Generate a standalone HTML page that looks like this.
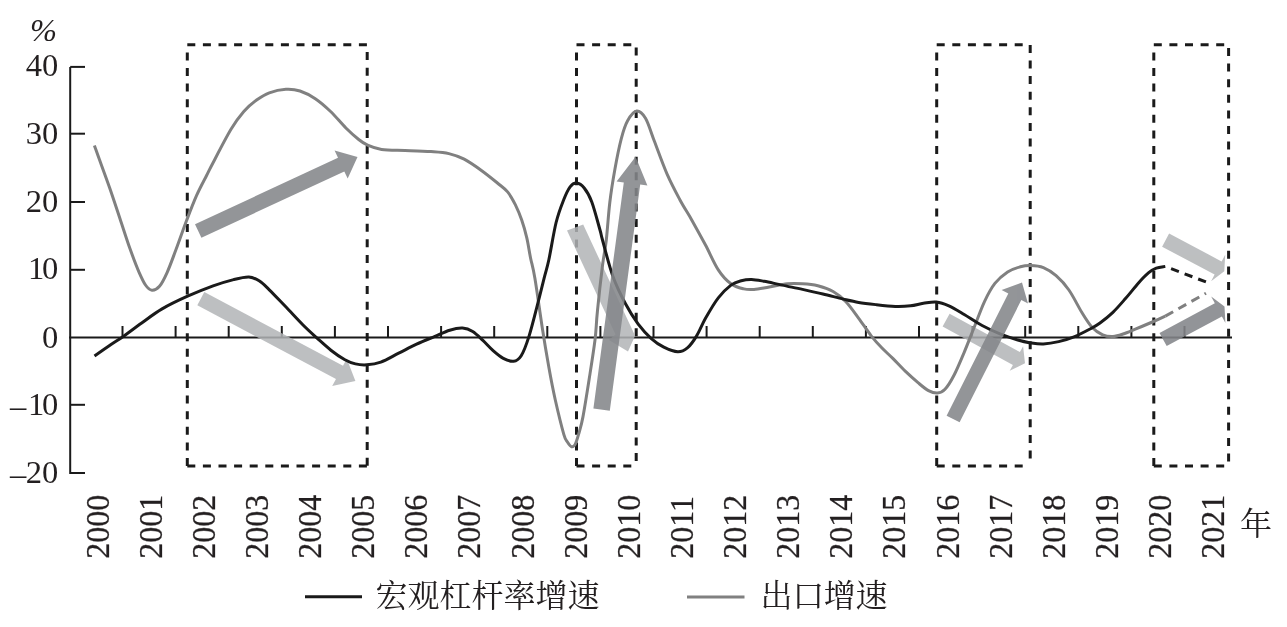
<!DOCTYPE html>
<html><head><meta charset="utf-8"><title>chart</title>
<style>html,body{margin:0;padding:0;background:#fff}svg{display:block}text{font-family:"Liberation Serif","Noto Serif CJK SC",serif;fill:#231f20}.xl text{stroke:#231f20;stroke-width:0.25}</style></head>
<body>
<svg width="1287" height="627" viewBox="0 0 1287 627">
<rect width="1287" height="627" fill="#fff"/>
<g stroke="#1a1a1a" stroke-width="2" fill="none">
<path d="M70.2 66.9V474"/>
<path d="M69.2 337.5H1232"/>
<path d="M70.2 66.9H85"/>
<path d="M70.2 133.7H85"/>
<path d="M70.2 202.0H85"/>
<path d="M70.2 269.8H85"/>
<path d="M70.2 404.8H85"/>
<path d="M70.2 473.0H85"/>
<path d="M122.5 337.5V326.0"/>
<path d="M175.6 337.5V326.0"/>
<path d="M228.7 337.5V326.0"/>
<path d="M281.8 337.5V326.0"/>
<path d="M334.9 337.5V326.0"/>
<path d="M388.0 337.5V326.0"/>
<path d="M441.1 337.5V326.0"/>
<path d="M494.2 337.5V326.0"/>
<path d="M547.3 337.5V326.0"/>
<path d="M600.4 337.5V326.0"/>
<path d="M653.5 337.5V326.0"/>
<path d="M706.6 337.5V326.0"/>
<path d="M759.7 337.5V326.0"/>
<path d="M812.8 337.5V326.0"/>
<path d="M865.9 337.5V326.0"/>
<path d="M919.0 337.5V326.0"/>
<path d="M972.1 337.5V326.0"/>
<path d="M1025.2 337.5V326.0"/>
<path d="M1078.3 337.5V326.0"/>
<path d="M1131.4 337.5V326.0"/>
<path d="M1184.5 337.5V326.0"/>
</g>
<g stroke="#1a1a1a" stroke-width="3" fill="none" stroke-dasharray="8 7.6">
<path d="M187.3 466.0V44.8H367.2V466.0"/>
<path d="M187.3 466.0H367.2"/>
<path d="M576.5 466.0V44.8H636.2V466.0"/>
<path d="M576.5 466.0H636.2"/>
<path d="M936.7 466.0V44.8H1030.2V466.0"/>
<path d="M936.7 466.0H1030.2"/>
<path d="M1153.8 466.0V44.8H1228.6V466.0"/>
<path d="M1153.8 466.0H1228.6"/>
</g>
<g opacity="0.85" fill="#b2b4b6"><polygon points="197.3,305.3 336.0,379.1 332.2,386.1 355.4,380.9 346.8,358.8 343.0,365.8 204.3,292.1"/><polygon points="567,230.6 583.2,224.6 635.1,335.8 628,351.4 608.8,340 615.5,334.6"/><polygon points="942.6,326.6 1012.9,364.9 1009.7,370.8 1025.0,363.2 1023.1,346.2 1019.9,352.1 949.6,313.8"/><polygon points="1162.1,246.7 1214.6,274.6 1211.1,281.3 1224.3,271.3 1225.2,254.8 1221.6,261.4 1169.1,233.5"/></g>
<path d="M94.4 145.5C95.3 147.9 97.0 152.9 99.6 160.0C102.1 167.1 106.3 178.2 109.7 188.0C113.1 197.8 116.6 208.5 120.0 218.7C123.4 228.9 127.0 240.4 130.2 249.3C133.4 258.2 136.5 266.4 139.1 272.3C141.7 278.2 143.4 282.0 145.5 285.0C147.6 288.0 149.6 290.0 151.9 290.2C154.2 290.4 156.9 289.3 159.5 286.3C162.1 283.3 164.4 278.5 167.2 272.3C170.0 266.1 172.9 257.8 176.1 249.3C179.3 240.8 182.9 230.2 186.3 221.3C189.7 212.4 193.1 203.4 196.5 195.7C199.9 188.0 203.9 180.8 206.7 175.3C209.5 169.8 209.1 170.2 213.2 162.5C217.2 154.8 225.9 137.8 231.0 129.3C236.1 120.8 239.5 116.4 243.8 111.5C248.1 106.6 252.4 103.1 256.6 100.0C260.9 96.9 264.4 94.6 269.3 92.8C274.2 91.0 280.8 89.6 285.9 89.3C291.0 89.0 295.1 89.4 300.0 91.0C304.9 92.6 310.2 95.3 315.3 98.7C320.4 102.1 325.5 106.6 330.6 111.5C335.7 116.4 341.2 123.3 345.9 128.0C350.6 132.7 355.1 136.6 358.7 139.5C362.3 142.4 363.8 143.5 367.6 145.2C371.4 146.9 375.4 148.6 381.6 149.5C387.8 150.4 396.8 150.2 405.0 150.5C413.2 150.8 423.7 151.1 431.0 151.6C438.3 152.1 443.4 152.3 448.9 153.6C454.4 154.9 458.7 156.3 464.2 159.2C469.7 162.1 476.6 167.0 482.1 171.0C487.6 175.0 493.1 179.5 497.4 183.0C501.6 186.5 504.6 188.3 507.6 191.9C510.6 195.5 512.9 199.9 515.3 204.6C517.6 209.3 519.8 214.5 521.7 220.0C523.6 225.5 525.3 231.4 526.8 237.8C528.3 244.2 529.2 251.4 530.6 258.2C532.0 264.9 532.9 266.4 534.9 278.3C536.9 290.2 540.2 314.4 542.5 329.3C544.8 344.2 546.8 355.8 548.9 367.6C551.0 379.4 552.8 388.9 555.3 400.0C557.8 411.1 561.8 427.3 563.8 434.4C565.8 441.4 566.3 440.2 567.6 442.3C568.9 444.4 570.2 446.4 571.5 446.7C572.8 447.0 574.0 446.5 575.3 444.1C576.6 441.7 577.8 437.1 579.1 432.5C580.4 427.9 581.3 425.6 583.0 416.6C584.7 407.6 587.3 391.1 589.3 378.3C591.3 365.5 593.6 351.1 595.0 340.0C596.4 328.9 596.1 323.9 597.4 311.5C598.6 299.1 601.0 277.4 602.5 265.5C604.0 253.6 605.1 250.5 606.3 240.0C607.5 229.5 608.4 214.3 609.8 202.5C611.2 190.7 613.0 179.9 614.9 169.3C616.8 158.7 619.2 146.8 621.3 138.7C623.4 130.6 625.0 125.4 627.6 120.8C630.2 116.2 633.6 111.5 636.6 111.1C639.6 110.7 642.5 113.3 645.5 118.3C648.5 123.3 650.8 132.0 654.4 141.3C658.0 150.7 662.9 164.6 667.2 174.4C671.5 184.2 675.9 192.3 680.0 200.0C684.1 207.7 687.8 212.9 692.0 220.4C696.2 227.9 701.1 236.8 705.5 245.0C709.9 253.2 714.0 263.3 718.3 269.8C722.5 276.3 726.8 280.6 731.0 283.8C735.2 287.0 740.0 288.0 743.8 288.9C747.6 289.8 749.8 289.7 754.0 289.4C758.2 289.1 763.8 287.8 769.3 286.9C774.8 286.0 781.7 284.3 787.2 283.8C792.7 283.3 797.4 283.5 802.5 283.8C807.6 284.1 812.7 284.5 817.8 285.8C822.9 287.1 828.4 288.9 833.1 291.5C837.8 294.1 841.6 297.2 845.9 301.7C850.2 306.2 854.5 312.6 858.7 318.3C863.0 324.0 867.5 331.2 871.4 336.1C875.3 341.1 878.4 344.3 882.0 348.0C885.6 351.7 888.9 354.5 892.8 358.4C896.7 362.3 901.2 367.3 905.5 371.4C909.8 375.5 914.5 379.7 918.3 382.9C922.1 386.1 925.3 388.9 928.5 390.6C931.7 392.3 934.6 393.3 937.4 393.1C940.1 392.9 942.2 392.3 945.0 389.3C947.8 386.3 950.8 381.5 954.0 375.3C957.2 369.1 960.8 360.4 964.2 352.3C967.6 344.2 971.0 335.3 974.4 326.8C977.8 318.3 981.2 308.5 984.6 301.3C988.0 294.1 991.1 288.3 994.9 283.4C998.7 278.5 1003.4 274.7 1007.6 271.9C1011.9 269.1 1016.6 267.9 1020.4 266.8C1024.2 265.7 1026.8 265.4 1030.6 265.5C1034.4 265.6 1039.2 265.9 1043.4 267.6C1047.7 269.3 1051.8 272.0 1056.1 275.7C1060.3 279.4 1064.7 283.9 1068.9 290.0C1073.2 296.1 1077.8 305.8 1081.6 312.0C1085.4 318.2 1088.5 323.4 1092.0 327.2C1095.5 331.0 1099.2 333.2 1102.7 334.8C1106.2 336.4 1109.5 336.6 1112.9 336.5C1116.3 336.4 1119.3 335.3 1123.1 334.0C1126.9 332.7 1131.2 330.8 1135.9 328.9C1140.6 327.0 1146.3 324.6 1151.2 322.5C1156.1 320.4 1163.0 317.2 1165.3 316.1" fill="none" stroke="#808080" stroke-width="3" stroke-linejoin="round"/>
<path d="M1165.3 316.1L1206.0 293.2" fill="none" stroke="#808080" stroke-width="3" stroke-dasharray="9 6"/>
<path d="M94.5 356.1C97.2 354.2 106.3 347.8 111.0 344.6C115.7 341.4 117.4 340.6 122.5 337.0C127.6 333.4 135.1 327.7 141.7 323.0C148.3 318.3 154.4 313.4 162.1 308.9C169.8 304.4 179.1 300.0 187.6 296.2C196.1 292.4 205.4 288.7 213.1 285.9C220.8 283.1 227.6 281.1 233.6 279.6C239.6 278.1 244.7 276.8 248.9 277.0C253.2 277.2 255.7 278.7 259.1 280.8C262.5 282.9 264.9 285.6 269.3 289.8C273.7 294.1 279.7 300.5 285.3 306.3C290.9 312.1 297.6 319.4 302.8 324.7C308.1 330.0 312.1 333.6 316.8 337.9C321.5 342.1 326.2 346.5 330.9 350.2C335.6 353.9 340.8 357.5 344.9 359.8C349.0 362.1 351.8 363.1 355.4 363.9C359.0 364.7 362.6 365.1 366.8 364.8C371.0 364.5 375.5 364.0 380.8 362.1C386.1 360.2 392.7 356.2 398.7 353.2C404.7 350.2 410.7 347.0 416.6 344.2C422.6 341.4 428.9 338.9 434.4 336.6C439.9 334.3 445.0 331.6 449.7 330.2C454.4 328.8 458.7 327.9 462.5 328.1C466.3 328.3 469.3 329.4 472.7 331.5C476.1 333.6 479.5 337.2 482.9 340.4C486.3 343.6 489.7 347.6 493.1 350.6C496.5 353.6 499.9 356.5 503.3 358.3C506.7 360.1 510.5 361.7 513.5 361.3C516.5 360.9 518.6 359.8 521.2 355.7C523.8 351.6 526.4 344.5 528.9 336.6C531.4 328.7 534.0 318.3 536.5 308.5C539.0 298.7 542.2 286.0 544.2 277.9C546.2 269.8 546.8 269.2 548.8 260.0C550.8 250.8 553.6 232.6 556.1 222.5C558.6 212.4 561.5 205.4 563.8 199.5C566.1 193.6 568.0 189.6 570.1 186.8C572.2 184.1 574.1 182.8 576.5 183.0C578.9 183.2 581.7 184.8 584.2 188.0C586.8 191.2 589.2 195.0 591.8 202.0C594.4 209.0 598.2 223.7 600.0 230.0C601.8 236.3 600.4 232.4 602.5 240.0C604.6 247.6 608.9 265.1 612.7 275.7C616.5 286.3 621.2 295.7 625.5 303.8C629.8 311.9 634.0 318.4 638.2 324.2C642.5 329.9 646.7 334.5 651.0 338.3C655.3 342.1 659.3 344.9 663.8 347.2C668.3 349.4 673.8 351.7 677.8 351.8C681.8 351.9 684.6 350.2 687.7 347.6C690.8 345.0 693.5 341.0 696.5 336.1C699.5 331.2 701.9 324.7 705.5 318.3C709.1 311.9 714.0 303.3 718.3 297.8C722.5 292.3 727.2 288.0 731.0 285.1C734.8 282.2 737.9 281.6 741.3 280.7C744.7 279.8 747.7 279.4 751.5 279.5C755.3 279.6 759.1 280.4 764.2 281.3C769.3 282.2 775.7 283.8 782.1 285.1C788.5 286.5 795.7 287.9 802.5 289.4C809.3 290.9 816.1 292.4 822.9 294.0C829.7 295.6 837.3 297.7 843.3 299.1C849.3 300.5 853.2 301.5 858.7 302.4C864.2 303.3 870.4 304.0 876.5 304.7C882.6 305.4 889.6 306.2 895.3 306.4C901.0 306.6 905.9 306.3 910.6 305.8C915.3 305.3 919.1 303.9 923.4 303.3C927.7 302.7 932.0 301.6 936.2 302.0C940.5 302.4 944.2 303.7 948.9 305.8C953.6 307.9 958.7 311.2 964.2 314.5C969.7 317.8 976.1 322.3 982.1 325.5C988.1 328.7 994.0 331.5 1000.0 333.9C1006.0 336.3 1012.7 338.5 1017.8 340.0C1022.9 341.5 1026.3 342.2 1030.6 342.9C1034.9 343.5 1038.7 344.1 1043.4 343.9C1048.1 343.7 1053.6 342.8 1058.7 341.6C1063.8 340.4 1068.8 338.9 1074.0 336.8C1079.2 334.7 1085.7 331.3 1090.0 329.0C1094.3 326.7 1096.2 325.8 1100.0 323.0C1103.8 320.2 1108.6 316.4 1112.9 312.3C1117.2 308.2 1121.4 303.2 1125.7 298.3C1130.0 293.4 1134.7 287.3 1138.5 283.0C1142.3 278.7 1145.7 275.2 1148.7 272.7C1151.7 270.2 1153.5 269.2 1156.3 268.1C1159.1 267.1 1163.8 266.7 1165.3 266.4" fill="none" stroke="#1a1a1a" stroke-width="3" stroke-linejoin="round"/>
<path d="M1165.3 266.4L1208.7 283.0" fill="none" stroke="#1a1a1a" stroke-width="3" stroke-dasharray="8.3 6.2" stroke-dashoffset="8.3"/>
<g opacity="0.88" fill="#84868a"><polygon points="201.4,237.8 344.3,171.4 347.7,178.6 357.5,157.0 334.6,150.5 338.0,157.8 195.0,224.2"/><polygon points="609.8,410.8 640.2,184.6 647.4,185.5 635.6,156.7 616.6,181.4 623.8,182.4 593.4,408.6"/><polygon points="959.6,422.3 1021.3,300.1 1028.0,303.4 1022.0,282.5 1001.6,290.1 1008.3,293.5 946.6,415.7"/><polygon points="1166.7,346.1 1221.9,316.4 1225.4,323.0 1224.5,306.5 1211.2,296.6 1214.8,303.2 1159.5,332.9"/></g>
<g font-size="31">
<text transform="translate(0 76.2) scale(1.05 1)"><tspan x="24.62">40</tspan></text>
<text transform="translate(0 143.7) scale(1.05 1)"><tspan x="24.62">30</tspan></text>
<text transform="translate(0 212.0) scale(1.05 1)"><tspan x="24.62">20</tspan></text>
<text transform="translate(0 279.2) scale(1.05 1)"><tspan x="26.71">1</tspan><tspan x="40.12">0</tspan></text>
<text transform="translate(0 347.6) scale(1.05 1)"><tspan x="40.12">0</tspan></text>
<text transform="translate(0 414.9) scale(1.05 1)"><tspan x="9.43" dy="2.2">–</tspan><tspan x="26.71" dy="-2.2">1</tspan><tspan x="40.12">0</tspan></text>
<text transform="translate(0 483.1) scale(1.05 1)"><tspan x="9.43" dy="2.2">–</tspan><tspan x="24.62" dy="-2.2">20</tspan></text>
<text transform="translate(30 41)" font-size="32.4" font-style="italic">%</text>
</g>
<g font-size="32" class="xl">
<text transform="translate(108.6 558.7) rotate(-90) scale(1 1.045)">2000</text>
<text transform="translate(161.7 558.7) rotate(-90) scale(1 1.045)">2001</text>
<text transform="translate(214.8 558.7) rotate(-90) scale(1 1.045)">2002</text>
<text transform="translate(268.0 558.7) rotate(-90) scale(1 1.045)">2003</text>
<text transform="translate(321.1 558.7) rotate(-90) scale(1 1.045)">2004</text>
<text transform="translate(374.2 558.7) rotate(-90) scale(1 1.045)">2005</text>
<text transform="translate(427.3 558.7) rotate(-90) scale(1 1.045)">2006</text>
<text transform="translate(480.4 558.7) rotate(-90) scale(1 1.045)">2007</text>
<text transform="translate(533.6 558.7) rotate(-90) scale(1 1.045)">2008</text>
<text transform="translate(586.7 558.7) rotate(-90) scale(1 1.045)">2009</text>
<text transform="translate(639.8 558.7) rotate(-90) scale(1 1.045)">2010</text>
<text transform="translate(692.9 558.7) rotate(-90) scale(1 1.045)">2011</text>
<text transform="translate(746.0 558.7) rotate(-90) scale(1 1.045)">2012</text>
<text transform="translate(799.2 558.7) rotate(-90) scale(1 1.045)">2013</text>
<text transform="translate(852.3 558.7) rotate(-90) scale(1 1.045)">2014</text>
<text transform="translate(905.4 558.7) rotate(-90) scale(1 1.045)">2015</text>
<text transform="translate(958.5 558.7) rotate(-90) scale(1 1.045)">2016</text>
<text transform="translate(1011.6 558.7) rotate(-90) scale(1 1.045)">2017</text>
<text transform="translate(1064.8 558.7) rotate(-90) scale(1 1.045)">2018</text>
<text transform="translate(1117.9 558.7) rotate(-90) scale(1 1.045)">2019</text>
<text transform="translate(1171.0 558.7) rotate(-90) scale(1 1.045)">2020</text>
<text transform="translate(1224.1 558.7) rotate(-90) scale(1 1.045)">2021</text>
</g>
<text x="1240" y="535" font-size="32">年</text>
<path d="M305 596.7H362" stroke="#1a1a1a" stroke-width="3"/>
<text x="375.5" y="607" font-size="32" textLength="224" lengthAdjust="spacing">宏观杠杆率增速</text>
<path d="M687 596.9H744.5" stroke="#808080" stroke-width="3"/>
<text x="760.5" y="607" font-size="32" textLength="127" lengthAdjust="spacing">出口增速</text>
</svg>
</body></html>
